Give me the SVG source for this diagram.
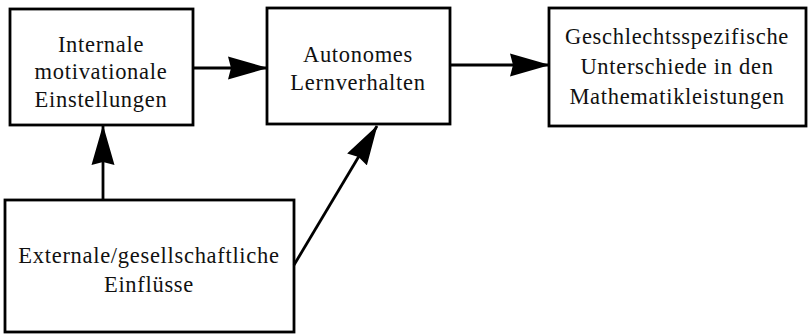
<svg xmlns="http://www.w3.org/2000/svg" width="811" height="334" viewBox="0 0 811 334">
<style>
.box{fill:#fff;stroke:#000;stroke-width:2.8}
.t{font-family:"Liberation Serif","Times New Roman",serif;font-size:22.5px;fill:#111;text-anchor:middle;letter-spacing:0.7px}
.c{stroke:#000;stroke-width:2.8;fill:none}
</style>
<defs>
<marker id="ah" markerUnits="userSpaceOnUse" markerWidth="42" markerHeight="24" refX="39" refY="11.5" orient="auto" viewBox="0 0 42 23">
<path d="M0,0 L40,11.5 L0,23 L3,11.5 Z" fill="#000"/>
</marker>
</defs>
<rect width="811" height="334" fill="#fff"/>
<g id="n1">
<rect class="box" x="10" y="9" width="183" height="116"/>
<text class="t" x="101" y="52">Internale</text>
<text class="t" x="101" y="79">motivationale</text>
<text class="t" x="101" y="107">Einstellungen</text>
</g>
<g id="n2">
<rect class="box" x="267" y="8" width="183" height="116"/>
<text class="t" x="358" y="62">Autonomes</text>
<text class="t" x="358" y="90">Lernverhalten</text>
</g>
<g id="n3">
<rect class="box" x="549" y="8" width="257" height="118"/>
<text class="t" x="677" y="44">Geschlechtsspezifische</text>
<text class="t" x="677" y="74">Unterschiede in den</text>
<text class="t" x="677" y="104">Mathematikleistungen</text>
</g>
<g id="n4">
<rect class="box" x="5" y="200" width="289" height="132"/>
<text class="t" x="149" y="263">Externale/gesellschaftliche</text>
<text class="t" x="149" y="292">Einflüsse</text>
</g>
<g id="connectors">
<line class="c" x1="194" y1="68" x2="267" y2="68" marker-end="url(#ah)"/>
<line class="c" x1="450" y1="65" x2="549" y2="65" marker-end="url(#ah)"/>
<line class="c" x1="103" y1="199" x2="103" y2="126" marker-end="url(#ah)"/>
<line class="c" x1="294" y1="265" x2="377" y2="126" marker-end="url(#ah)"/>
</g>
</svg>
